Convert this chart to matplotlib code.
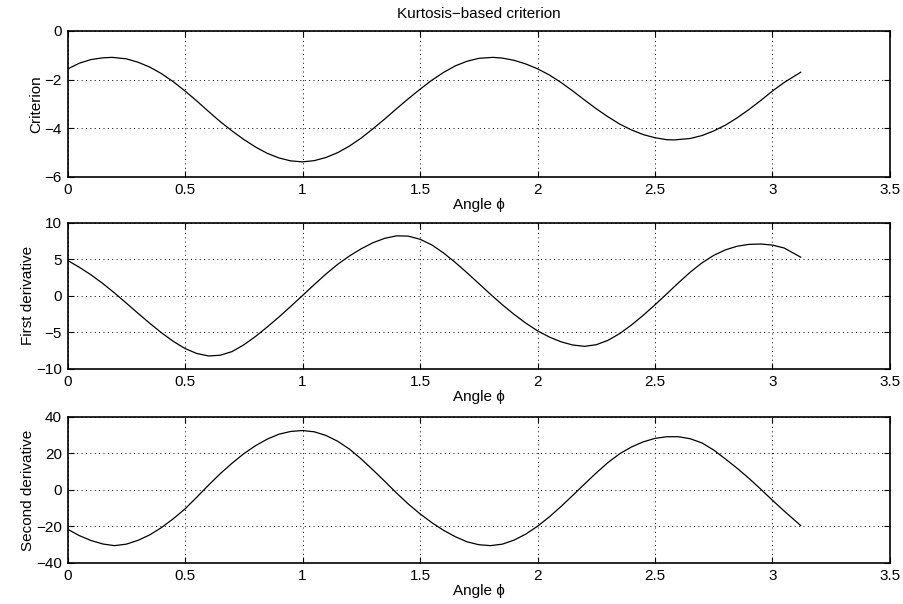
import numpy as np
import matplotlib.pyplot as plt

plt.rcParams['font.family'] = ['Liberation Sans', 'DejaVu Sans']

# values
phi_c = [0, 0.05, 0.1, 0.15, 0.19, 0.25, 0.3, 0.35, 0.4, 0.45, 0.5, 0.55, 0.6, 0.65,
         0.7, 0.75, 0.8, 0.85, 0.9, 0.95, 1.0, 1.05, 1.1, 1.15, 1.2, 1.25, 1.3, 1.35,
         1.4, 1.45, 1.5, 1.55, 1.6, 1.65, 1.7, 1.75, 1.81, 1.85, 1.9, 1.95, 2.0, 2.05,
         2.1, 2.15, 2.2, 2.25, 2.3, 2.35, 2.4, 2.45, 2.5, 2.55, 2.58, 2.65, 2.7, 2.75,
         2.8, 2.85, 2.9, 2.95, 3.0, 3.05, 3.12]
criterion = [-1.57, -1.33, -1.18, -1.11, -1.09, -1.15, -1.29, -1.49, -1.76, -2.09, -2.47,
             -2.88, -3.31, -3.73, -4.11, -4.46, -4.77, -5.03, -5.22, -5.34, -5.38, -5.33,
             -5.20, -5.00, -4.73, -4.40, -4.02, -3.62, -3.20, -2.79, -2.40, -2.03, -1.71,
             -1.44, -1.25, -1.13, -1.09, -1.12, -1.21, -1.36, -1.56, -1.81, -2.12, -2.47,
             -2.84, -3.20, -3.53, -3.83, -4.07, -4.26, -4.39, -4.47, -4.48, -4.42, -4.30,
             -4.11, -3.87, -3.57, -3.23, -2.86, -2.47, -2.12, -1.70]

phi_d = [0, 0.05, 0.1, 0.15, 0.2, 0.25, 0.3, 0.35, 0.4, 0.45, 0.5, 0.55, 0.6, 0.65,
         0.7, 0.75, 0.8, 0.85, 0.9, 0.95, 1.0, 1.05, 1.1, 1.15, 1.2, 1.25, 1.3, 1.35,
         1.4, 1.45, 1.5, 1.55, 1.6, 1.65, 1.7, 1.75, 1.8, 1.85, 1.9, 1.95, 2.0, 2.05,
         2.1, 2.15, 2.2, 2.25, 2.3, 2.35, 2.4, 2.45, 2.5, 2.55, 2.6, 2.65, 2.7, 2.75,
         2.8, 2.85, 2.9, 2.95, 3.0, 3.05, 3.12]
first_deriv = [4.86, 3.92, 2.88, 1.70, 0.40, -0.98, -2.38, -3.75, -5.05, -6.22, -7.20, -7.88,
               -8.22, -8.12, -7.62, -6.70, -5.55, -4.25, -2.88, -1.43, 0.05, 1.55, 3.00, 4.33,
               5.47, 6.45, 7.28, 7.88, 8.22, 8.18, 7.75, 6.98, 5.88, 4.58, 3.17, 1.70, 0.22,
               -1.20, -2.52, -3.72, -4.78, -5.62, -6.28, -6.72, -6.90, -6.68, -6.08, -5.15,
               -3.98, -2.65, -1.22, 0.28, 1.80, 3.25, 4.52, 5.55, 6.30, 6.80, 7.05, 7.10,
               6.95, 6.55, 5.30]

phi_s = [0, 0.05, 0.1, 0.15, 0.2, 0.25, 0.3, 0.35, 0.4, 0.45, 0.5, 0.55, 0.6, 0.65,
         0.7, 0.75, 0.8, 0.85, 0.9, 0.95, 1.0, 1.05, 1.1, 1.15, 1.2, 1.25, 1.3, 1.35,
         1.4, 1.45, 1.5, 1.55, 1.6, 1.65, 1.7, 1.75, 1.8, 1.85, 1.9, 1.95, 2.0, 2.05,
         2.1, 2.15, 2.2, 2.25, 2.3, 2.35, 2.4, 2.45, 2.5, 2.55, 2.6, 2.65, 2.7, 2.75,
         2.8, 2.85, 2.9, 2.95, 3.0, 3.05, 3.12]
second_deriv = [-21.5, -25.0, -27.7, -29.6, -30.5, -29.7, -27.6, -24.6, -20.6, -15.8, -10.4,
                -4.0, 2.6, 8.9, 14.6, 19.8, 24.2, 27.8, 30.5, 32.0, 32.5, 31.8, 29.8, 26.6,
                22.3, 16.9, 10.9, 4.7, -1.7, -7.7, -13.1, -17.9, -22.1, -25.6, -28.4, -30.0,
                -30.5, -29.7, -27.5, -24.2, -19.9, -14.8, -9.1, -3.0, 3.2, 9.3, 15.0, 19.8,
                23.5, 26.3, 28.2, 29.1, 29.1, 28.0, 25.7, 21.8, 16.9, 11.8, 6.3, 0.4, -5.7,
                -11.6, -19.5]

xticks = [0, 0.5, 1, 1.5, 2, 2.5, 3, 3.5]
panels = [
    (phi_c, criterion, 'Criterion', [-6, -4, -2, 0], 0.7070),
    (phi_d, first_deriv, 'First derivative', [-10, -5, 0, 5, 10], 0.3891),
    (phi_s, second_deriv, 'Second derivative', [-40, -20, 0, 20, 40], 0.0679),
]

fig = plt.figure(figsize=(9.04, 6.04), dpi=100)

for i, (x, y, ylab, yt, bottom) in enumerate(panels):
    ax = fig.add_axes([0.0747, bottom, 0.9098, 0.2420])
    ax.plot(x, y, color='black', lw=0.9)
    ax.set_xlim(0, 3.5)
    ax.set_ylim(yt[0], yt[-1])
    ax.set_xticks(xticks)
    ax.set_xticklabels(['0', '0.5', '1', '1.5', '2', '2.5', '3', '3.5'])
    ax.set_yticks(yt)
    ax.set_yticklabels([str(v).replace('-', '\u2212') for v in yt])
    ax.grid(True, color='black', linestyle=(0, (1, 3.5)), lw=0.7)
    ax.tick_params(direction='in', top=True, right=True, length=4, width=0.8,
                   labelsize=11, pad=4)
    for s in ax.spines.values():
        s.set_linewidth(1.2)
    ax.set_xlabel('Angle \u03d5', fontsize=11, labelpad=1)
    ax.set_ylabel(ylab, fontsize=11, labelpad=1)
    if i == 0:
        ax.set_title('Kurtosis\u2212based criterion', fontsize=11, pad=9)

fig.savefig('out.png', dpi=100)
